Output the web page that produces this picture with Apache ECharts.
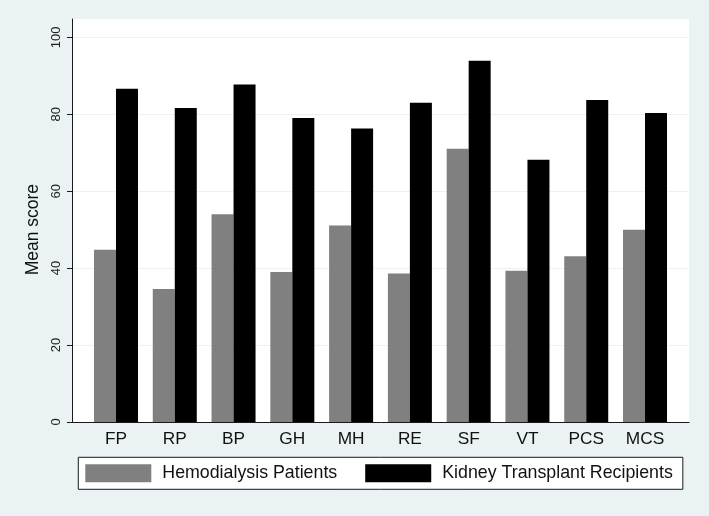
<!DOCTYPE html>
<html>
<head>
<meta charset="utf-8">
<script src="https://cdn.jsdelivr.net/npm/echarts@6/dist/echarts.min.js"></script>
<style>
html,body{margin:0;padding:0;background:#eaf2f3;}
#chart{width:709px;height:516px;}
</style>
</head>
<body>
<div id="chart"></div>
<script>
const categories = ['FP','RP','BP','GH','MH','RE','SF','VT','PCS','MCS'];
const hemodialysis = [44.8, 34.6, 54.0, 39.0, 51.1, 38.6, 71.0, 39.3, 43.1, 50.0];
const transplant = [86.6, 81.6, 87.7, 79.0, 76.3, 83.0, 93.9, 68.2, 83.7, 80.3];
const yTicks = [0, 20, 40, 60, 80, 100];
const seriesNames = ['Hemodialysis Patients', 'Kidney Transplant Recipients'];

const FONT = 'Liberation Sans, Arial, sans-serif';
const chart = echarts.init(document.getElementById('chart'), null, {renderer: 'canvas'});
chart.setOption({
  backgroundColor: '#eaf2f3',
  animation: false,
  grid: [
    {left: 72, right: 20, top: 19, bottom: 94, show: true, backgroundColor: '#ffffff', borderWidth: 0, containLabel: false},
    {left: 72, right: 20, top: 37.3, bottom: 94, containLabel: false},
    {left: 86.6, right: 34.6, top: 37.3, bottom: 94, containLabel: false}
  ],
  xAxis: [
    {gridIndex: 0, type: 'value', min: 0, max: 1, axisLine: {show: true, onZero: false, lineStyle: {color: '#1a1a1a', width: 1}}, axisTick: {show: false}, axisLabel: {show: false}, splitLine: {show: false}},
    {gridIndex: 1, type: 'value', min: 0, max: 1, show: false},
    {gridIndex: 2, type: 'category', data: categories, boundaryGap: true,
     axisLine: {show: false}, axisTick: {show: false},
     axisLabel: {color: '#111', fontSize: 17.3, fontFamily: FONT, margin: 9}}
  ],
  yAxis: [
    {gridIndex: 0, type: 'value', min: 0, max: 1, axisLine: {show: true, onZero: false, lineStyle: {color: '#1a1a1a', width: 1}}, axisTick: {show: false}, axisLabel: {show: false}, splitLine: {show: false}},
    {gridIndex: 1, type: 'value', min: yTicks[0], max: yTicks[yTicks.length - 1], interval: 20,
     axisLine: {show: false},
     axisTick: {show: true, length: 5, lineStyle: {color: '#1a1a1a'}},
     axisLabel: {rotate: 90, color: '#222', fontSize: 13, fontFamily: FONT, margin: 9},
     splitLine: {show: true, lineStyle: {color: '#eaf2f3', width: 1}},
     name: 'Mean score', nameLocation: 'middle', nameGap: 30,
     nameTextStyle: {color: '#111', fontSize: 17.5, fontFamily: FONT}},
    {gridIndex: 2, type: 'value', min: 0, max: 100, show: false}
  ],
  legend: {
    left: 78.3, top: 457.3,
    backgroundColor: '#ffffff', borderColor: '#1a1a1a', borderWidth: 1,
    padding: [7, 10, 7, 7],
    itemWidth: 66, itemHeight: 18, itemGap: 28,
    icon: 'rect',
    textStyle: {color: '#111', fontSize: 17.8, fontFamily: FONT, padding: [0, 0, 0, 6]},
    data: seriesNames
  },
  series: [
    {name: seriesNames[0], type: 'bar', xAxisIndex: 2, yAxisIndex: 2, data: hemodialysis, barWidth: 22, barGap: '0%', itemStyle: {color: '#808080'}},
    {name: seriesNames[1], type: 'bar', xAxisIndex: 2, yAxisIndex: 2, data: transplant, barWidth: 22, barGap: '0%', itemStyle: {color: '#000000'}}
  ]
});
</script>
</body>
</html>
